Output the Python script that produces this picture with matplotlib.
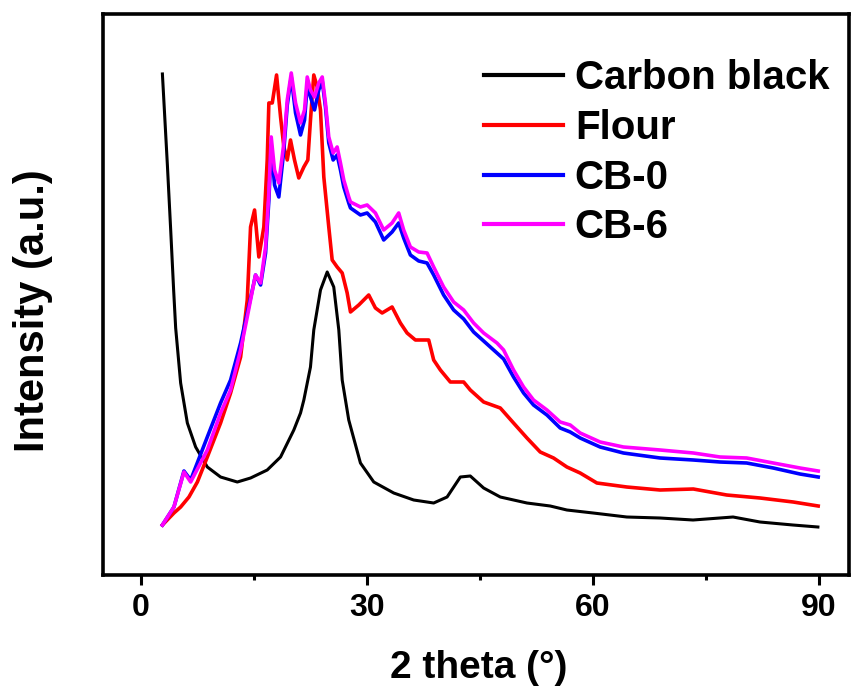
import numpy as np
import matplotlib
matplotlib.use("Agg")
import matplotlib.pyplot as plt
from matplotlib.ticker import MultipleLocator

plt.rcParams['font.family'] = ['Liberation Sans', 'DejaVu Sans']
plt.rcParams['font.weight'] = 'bold'

# XRD patterns (2 theta in degrees, intensity in a.u.)
cb_x = [2.88, 3.54, 3.98, 4.37, 4.64, 5.30, 6.19, 7.29, 8.84, 10.60, 12.82, 14.58,
        16.79, 18.56, 20.32, 21.21, 21.65, 22.53, 22.97, 23.86, 24.75, 25.62, 26.29,
        26.74, 27.61, 29.16, 30.93, 33.58, 36.23, 38.88, 40.66, 42.42, 43.74, 45.51,
        47.72, 51.26, 54.35, 56.56, 60.05, 64.51, 68.93, 73.30, 78.61, 82.19, 86.56, 89.87]
cb_y = [501, 410, 345, 285, 247, 192, 152, 128, 108, 98, 93, 97,
        105, 118, 145, 162, 175, 208, 245, 285, 303, 288, 245,
        195, 155, 112, 93, 82, 75, 72, 78, 98, 99, 87,
        78, 72, 69, 65, 62, 58, 57, 55, 58, 53, 50, 48]

flour_x = [2.88, 4.41, 5.30, 6.40, 7.52, 8.84, 10.60, 11.93, 13.26, 14.14, 14.58, 15.11,
           15.68, 16.34, 16.79, 17.01, 17.46, 18.03, 18.56, 19.00, 19.45, 19.88, 20.41,
           20.98, 21.65, 22.18, 22.53, 22.97, 23.42, 23.86, 24.30, 24.96, 25.41, 26.07,
           26.74, 27.40, 27.84, 28.94, 30.26, 31.15, 32.04, 33.36, 34.46, 35.35, 36.45,
           38.22, 38.88, 39.77, 41.09, 42.86, 43.74, 45.51, 47.72, 49.48, 51.26, 53.02,
           54.79, 56.56, 58.32, 60.54, 64.51, 68.93, 73.34, 77.77, 82.19, 86.60, 89.91]
flour_y = [50, 62, 68, 78, 93, 118, 152, 182, 218, 275, 348, 365,
           318, 348, 415, 472, 472, 500, 458, 428, 415, 435, 415,
           397, 408, 415, 455, 500, 488, 465, 398, 348, 315, 308,
           302, 282, 263, 270, 280, 267, 262, 268, 252, 242, 235,
           235, 215, 205, 193, 193, 185, 173, 167, 152, 137, 123,
           117, 108, 102, 92, 88, 85, 86, 80, 77, 73, 69]

cb_mix_x = [2.88, 4.41, 5.74, 6.63, 8.84, 10.60, 11.93, 13.26, 14.14, 15.02, 15.24, 15.91,
            16.57, 17.01, 17.32, 17.76, 18.33, 19.00, 19.45, 19.98, 20.55, 21.21, 21.74,
            22.10, 22.53, 23.07, 23.63, 24.09, 24.52, 24.96, 25.54, 26.07, 26.51, 26.95,
            27.61, 27.84, 29.16, 30.05, 31.15, 32.25, 33.36, 34.24, 34.90, 35.79, 36.89,
            38.00, 38.88, 40.20, 41.53, 42.86, 44.18, 45.51, 47.28, 48.16, 49.48, 50.81,
            52.13, 53.91, 55.67, 57.00, 58.32, 60.97, 64.06, 68.93, 73.34, 76.88, 80.42,
            83.95, 87.49, 89.91]
cb0_y = [50, 68, 104, 95, 138, 172, 195, 232, 262, 292, 300, 290,
         322, 375, 430, 390, 378, 425, 470, 498, 462, 440, 455,
         490, 478, 465, 485, 494, 468, 432, 415, 420, 405, 388,
         372, 367, 360, 362, 353, 335, 343, 352, 337, 320, 314,
         312, 300, 280, 265, 256, 243, 234, 222, 216, 198, 182,
         170, 160, 147, 143, 137, 128, 122, 117, 115, 113, 112,
         107, 101, 98]
cb6_y = [50, 68, 103, 93, 125, 162, 185, 225, 258, 292, 300, 292,
         328, 382, 438, 405, 392, 432, 475, 502, 472, 452, 465,
         498, 485, 478, 492, 498, 472, 438, 422, 428, 412, 395,
         378, 373, 368, 370, 362, 345, 352, 362, 345, 328, 323,
         322, 308, 288, 273, 265, 252, 242, 232, 225, 205, 188,
         175, 165, 153, 150, 142, 133, 128, 125, 122, 118, 117,
         112, 107, 104]

fig = plt.figure(figsize=(8.55, 6.98), dpi=100)
ax = fig.add_axes([0.1205, 0.1762, 0.8725, 0.8038])

ax.plot(cb_x, cb_y, color='black', lw=2.2, label='Carbon black')
ax.plot(flour_x, flour_y, color='#ff0000', lw=2.6, label='Flour')
ax.plot(cb_mix_x, cb0_y, color='#0000ff', lw=2.6, label='CB-0')
ax.plot(cb_mix_x, cb6_y, color='#ff00ff', lw=2.6, label='CB-6')

ax.set_xlim(-5, 94)
ax.set_ylim(0, 561)

ax.xaxis.set_major_locator(MultipleLocator(30))
ax.xaxis.set_minor_locator(MultipleLocator(15))
ax.tick_params(axis='x', which='major', direction='out', length=7, width=2.2,
               labelsize=23, pad=6)
ax.tick_params(axis='x', which='minor', direction='out', length=3.5, width=2.2)
ax.set_yticks([])
for s in ax.spines.values():
    s.set_linewidth(2.6)

ax.set_xlabel('2 theta (°)', fontsize=28, fontweight='bold')
ax.xaxis.set_label_coords(0.504, -0.134)
ax.set_ylabel('Intensity (a.u.)', fontsize=30, fontweight='bold')
ax.yaxis.set_label_coords(-0.067, 0.472)

leg = ax.legend(loc='upper left', bbox_to_anchor=(0.511, 0.919), frameon=False,
                fontsize=29, handlelength=1.95, handletextpad=0.3,
                labelspacing=0.29, borderpad=0, borderaxespad=0)
for line in leg.get_lines():
    line.set_linewidth(3)

fig.savefig('out.png', dpi=100)
